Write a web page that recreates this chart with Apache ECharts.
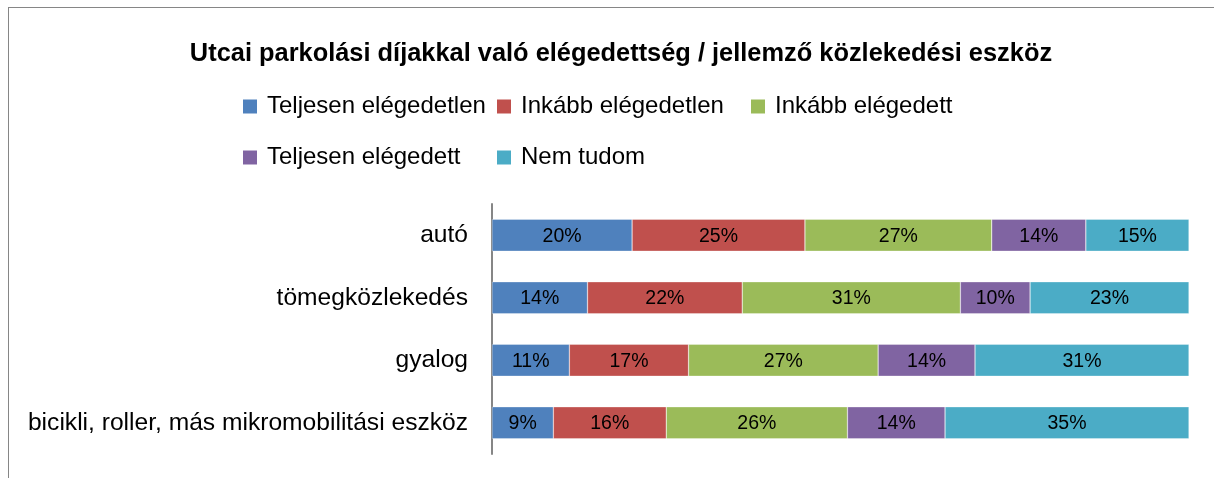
<!DOCTYPE html>
<html>
<head>
<meta charset="utf-8">
<script src="https://cdn.jsdelivr.net/npm/echarts@6/dist/echarts.min.js"></script>
<style>
  html, body { margin: 0; padding: 0; background: #fff; overflow: hidden; }
  #frame { position: absolute; left: 8px; top: 7px; width: 1400px; height: 600px;
           border-left: 1.5px solid #868686; border-top: 1.5px solid #868686; }
  #main { position: absolute; left: 0; top: 0; width: 1214px; height: 478px; }
</style>
</head>
<body>
<div id="frame"></div>
<div id="main"></div>
<script>
// kategóriák (felülről lefelé)
const categories = ['autó', 'tömegközlekedés', 'gyalog', 'bicikli, roller, más mikromobilitási eszköz']
const seriesNames = ['Teljesen elégedetlen', 'Inkább elégedetlen', 'Inkább elégedett', 'Teljesen elégedett', 'Nem tudom']
// százalékos értékek
const teljesenElegedetlen = [20.1, 13.7, 11.1, 8.8]
const inkabbElegedetlen = [24.8, 22.2, 17.1, 16.2]
const inkabbElegedett = [26.8, 31.3, 27.2, 26.0]
const teljesenElegedett = [13.5, 10.0, 13.9, 14.0]
const nemTudom = [14.8, 22.8, 30.7, 35.0]
const colors = ['#4F81BD', '#C0504D', '#9BBB59', '#8064A2', '#4BACC6']

const values = [teljesenElegedetlen, inkabbElegedetlen, inkabbElegedett, teljesenElegedett, nemTudom]
const font = '"Liberation Sans", Arial, sans-serif'

const myChart = echarts.init(document.getElementById('main'), null, { renderer: 'canvas' })

const option = {
  backgroundColor: 'transparent',
  color: colors,
  title: {
    text: 'Utcai parkolási díjakkal való elégedettség / jellemző közlekedési eszköz',
    left: 616,
    textAlign: 'center',
    top: 36,
    textStyle: { fontFamily: font, fontSize: 25.4, fontWeight: 'bold', color: '#000' }
  },
  legend: {
    left: 243,
    top: 81,
    width: 780,
    padding: 0,
    itemGap: 0,
    itemWidth: 14,
    itemHeight: 14,
    icon: 'rect',
    itemStyle: { borderWidth: 0 },
    data: seriesNames,
    textStyle: {
      fontFamily: font,
      fontSize: 24,
      color: '#000',
      width: 230,
      lineHeight: 51,
      padding: [0, 0, 0, 5]
    }
  },
  grid: { left: 492, right: 25, top: 204, bottom: 24, containLabel: false },
  xAxis: { type: 'value', min: 0, max: 100, show: false },
  yAxis: {
    type: 'category',
    inverse: true,
    data: categories,
    axisLine: { lineStyle: { color: '#868686', width: 2 } },
    axisTick: { show: false },
    axisLabel: { fontFamily: font, fontSize: 24.6, color: '#000', margin: 24 }
  },
  series: seriesNames.map((name, i) => ({
    name,
    type: 'bar',
    stack: 'total',
    barWidth: 32,
    data: values[i],
    itemStyle: { borderColor: 'rgba(255,255,255,0.6)', borderWidth: 0.5 },
    label: {
      show: true,
      position: 'inside',
      offset: [0, 1],
      fontFamily: font,
      fontSize: 19.5,
      color: '#000',
      formatter: p => Math.round(p.value) + '%'
    }
  }))
}

myChart.setOption(option)
</script>
</body>
</html>
